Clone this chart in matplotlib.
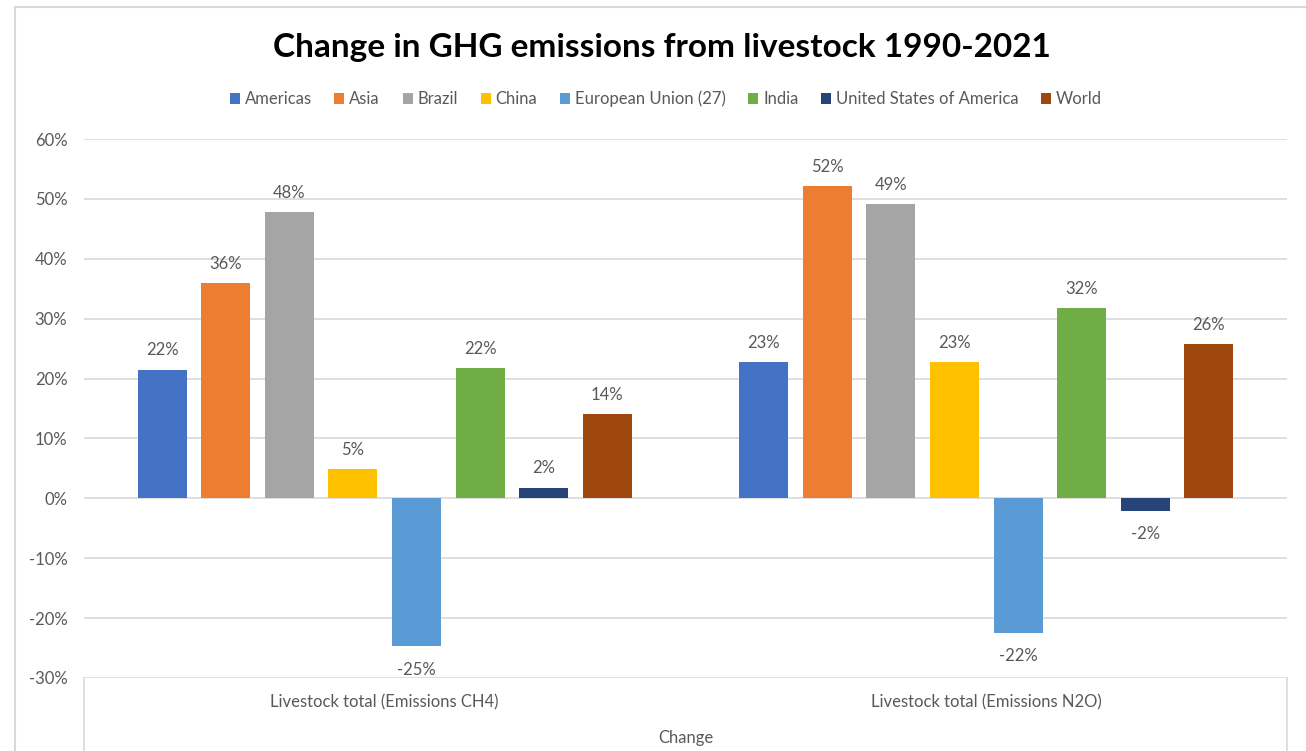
import matplotlib
matplotlib.use("Agg")
import matplotlib.pyplot as plt
import numpy as np
from matplotlib.lines import Line2D
from matplotlib.patches import Rectangle
from matplotlib.ticker import FuncFormatter, MultipleLocator

plt.rcParams["font.family"] = ["Lato", "DejaVu Sans"]

categories = ["Livestock total (Emissions CH4)", "Livestock total (Emissions N2O)"]
regions = ["Americas", "Asia", "Brazil", "China", "European Union (27)",
           "India", "United States of America", "World"]
ch4 = [0.215, 0.359, 0.478, 0.049, -0.247, 0.217, 0.018, 0.140]
n2o = [0.227, 0.522, 0.492, 0.227, -0.225, 0.318, -0.021, 0.258]
colors = ["#4472C4", "#ED7D31", "#A5A5A5", "#FFC000", "#5B9BD5",
          "#70AD47", "#264478", "#9E480E"]

TEXT, GRID = "#595959", "#D9D9D9"
W, H = 1306, 751

fig = plt.figure(figsize=(W / 100, H / 100), dpi=100)
ax = fig.add_axes([84 / W, 73 / H, (1287 - 84) / W, (678 - 139) / H])

x = np.arange(len(categories))
pitch, width = 0.1057, 0.0815
for i, (name, col) in enumerate(zip(regions, colors)):
    vals = [ch4[i], n2o[i]]
    pos = x + (i - 3.5) * pitch
    bars = ax.bar(pos, vals, width, color=col, label=name, zorder=2)
    for b, v in zip(bars, vals):
        off = 8 if v >= 0 else -11
        ax.annotate(f"{v * 100:.0f}%", (b.get_x() + b.get_width() / 2, v),
                    xytext=(0, off), textcoords="offset points",
                    ha="center", va="bottom" if v >= 0 else "top",
                    fontsize=12, color=TEXT)

ax.set_xlim(-0.5, 1.5)
ax.set_ylim(-0.3, 0.6)
ax.yaxis.set_major_locator(MultipleLocator(0.1))
ax.yaxis.set_major_formatter(FuncFormatter(lambda v, _: f"{v * 100:.0f}%"))
ax.grid(axis="y", color=GRID, linewidth=1.2, zorder=0)
ax.set_axisbelow(True)
for s in ax.spines.values():
    s.set_visible(False)
ax.tick_params(axis="y", length=0, pad=12, labelsize=12, labelcolor=TEXT)
ax.set_xticks([])
for xi, cat in zip(x, categories):
    fig.text((84 + (xi + 0.5) * (1287 - 84) / 2) / W, 1 - 702 / H, cat,
             ha="center", va="center", fontsize=12, color=TEXT)
fig.text(685.5 / W, 1 - 738 / H, "Change", ha="center", va="center",
         fontsize=12, color=TEXT)

# category box under the plot area and chart border
for xp in (84, 1287):
    fig.add_artist(Line2D([xp / W, xp / W], [0, 73 / H], color=GRID, lw=1.2))
fig.add_artist(Rectangle((15 / W, -0.1), 1.2, 1 - 7 / H + 0.1, fill=False,
                         edgecolor=GRID, lw=1.5, transform=fig.transFigure))

fig.suptitle("Change in GHG emissions from livestock 1990-2021",
             x=662 / W, y=1 - 47 / H, va="center", fontsize=24,
             fontweight="bold", color="black")
fig.legend(loc="center", bbox_to_anchor=(666 / W, 1 - 99 / H), ncol=8,
           frameon=False, fontsize=12, labelcolor=TEXT, handlelength=0.6,
           handleheight=0.6, handletextpad=0.3, columnspacing=1.35)

fig.savefig("out.png", dpi=100, facecolor="white")
